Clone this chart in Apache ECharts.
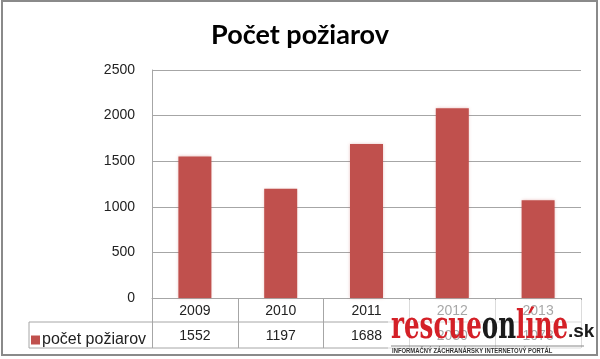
<!DOCTYPE html>
<html>
<head>
<meta charset="utf-8">
<script src="https://cdn.jsdelivr.net/npm/echarts@6/dist/echarts.min.js"></script>
<style>
html,body{margin:0;padding:0;background:#fff;}
#c{width:600px;height:359px;}
</style>
</head>
<body>
<div id="c"></div>
<script>
const title = 'Počet požiarov';
const categories = ['2009', '2010', '2011', '2012', '2013'];
const seriesName = 'počet požiarov';
const values = [1552, 1197, 1688, 2080, 1073];
const yTicks = [0, 500, 1000, 1500, 2000, 2500];

const chart = echarts.init(document.getElementById('c'), null, {renderer: 'canvas'});
const F = '"Liberation Sans", "Open Sans", sans-serif';
const lineCol = '#a6a6a6';

const gridL = 152, gridR = 19, gridT = 70, gridB = 61;
const axisY = 359 - gridB;
const row1 = axisY + 24, row2 = axisY + 50;

chart.setOption({
  animation: false,
  backgroundColor: '#fff',
  title: {
    text: title, left: 'center', top: 17,
    textStyle: {fontFamily: 'Lato, "Open Sans", sans-serif', fontWeight: 'bold', fontSize: 27, color: '#000'}
  },
  legend: {
    data: [seriesName], left: 26, top: row1 + 5, icon: 'rect', itemWidth: 9, itemHeight: 9, itemGap: 0,
    textStyle: {fontFamily: F, fontSize: 16, color: '#222', padding: [0, 0, 0, -3]},
    selectedMode: false
  },
  grid: {left: gridL, right: gridR, top: gridT, bottom: gridB, containLabel: false},
  xAxis: [{
    type: 'category', data: categories, position: 'bottom',
    axisLine: {show: true, lineStyle: {color: lineCol, width: 1}},
    axisTick: {show: true, length: 50, lineStyle: {color: lineCol}},
    axisLabel: {fontFamily: F, fontSize: 14, color: '#222', margin: 6}
  }, {
    type: 'category', data: categories, position: 'bottom', offset: 24,
    axisLine: {show: false}, axisTick: {show: false},
    axisLabel: {fontFamily: F, fontSize: 14, color: '#222', margin: 7,
      formatter: (v, i) => String(values[i])}
  }],
  yAxis: {
    type: 'value', min: yTicks[0], max: yTicks[yTicks.length - 1], interval: 500,
    axisLine: {show: true, lineStyle: {color: lineCol}},
    axisTick: {show: false},
    axisLabel: {fontFamily: F, fontSize: 14, color: '#222', margin: 17, formatter: v => String(v)},
    splitLine: {lineStyle: {color: lineCol}}
  },
  series: [{
    name: seriesName, type: 'bar', data: values, barWidth: 33, xAxisIndex: 0,
    itemStyle: {color: '#c0504d', shadowBlur: 3, shadowColor: 'rgba(192,80,77,0.35)'}
  }],
  graphic: [
    {type: 'line', shape: {x1: 29, y1: row1, x2: 600 - gridR, y2: row1}, style: {stroke: lineCol, lineWidth: 1}, z: 10},
    {type: 'line', shape: {x1: 29, y1: row2, x2: 600 - gridR, y2: row2}, style: {stroke: lineCol, lineWidth: 1}, z: 10},
    {type: 'line', shape: {x1: 29, y1: row1, x2: 29, y2: row2}, style: {stroke: lineCol, lineWidth: 1}, z: 10},
    {type: 'rect', shape: {x: 2, y: 1, width: 595, height: 354}, style: {fill: 'none', stroke: '#8a8a8a', lineWidth: 2}, z: 10},
    {type: 'rect', shape: {x: 388, y: 300, width: 204, height: 54}, style: {fill: 'rgba(255,255,255,0.6)'}, z: 20},
    {type: 'text', x: 391, y: 308, scaleX: 0.70, z: 21, style: {
      text: '{r|rescue}{b|on}{r|líne}',
      rich: {
        r: {fontFamily: '"DejaVu Serif Condensed", "DejaVu Serif", serif', fontWeight: 'bold', fontSize: 39, fill: '#d42027'},
        b: {fontFamily: '"DejaVu Serif Condensed", "DejaVu Serif", serif', fontWeight: 'bold', fontSize: 39, fill: '#1a1a1a'}
      }
    }},
    {type: 'text', x: 568, y: 322, z: 21, style: {
      text: '.sk', fontFamily: '"Liberation Sans Narrow", "Liberation Sans", sans-serif', fontWeight: 'bold', fontSize: 19, fill: '#1a1a1a'
    }},
    {type: 'line', shape: {x1: 391, y1: 346, x2: 584, y2: 346}, style: {stroke: '#888', lineWidth: 1}, z: 21},
    {type: 'text', x: 392, y: 348, scaleX: 0.84, z: 21, style: {
      text: 'INFORMAČNÝ ZÁCHRANÁRSKY INTERNETOVÝ PORTÁL', fontFamily: '"Liberation Sans Narrow", "Liberation Sans", sans-serif',
      fontWeight: 'bold', fontSize: 7, fill: '#333'
    }}
  ]
});
</script>
</body>
</html>
